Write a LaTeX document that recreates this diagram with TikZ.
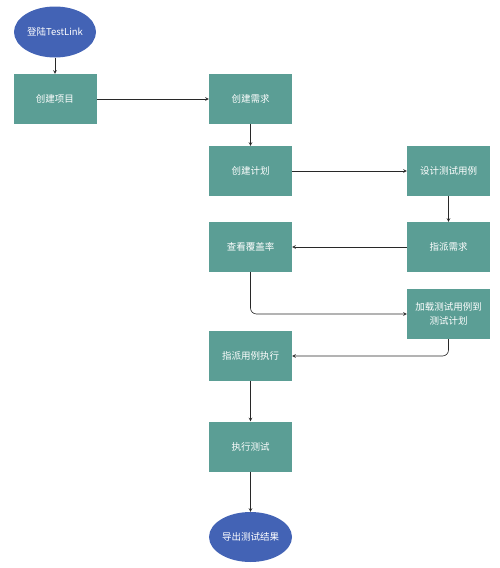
\documentclass[tikz,border=0pt]{standalone}
\usepackage{fontspec}
\newfontfamily\cjk{Noto Sans CJK SC}
\usetikzlibrary{shapes.geometric, arrows}
\definecolor{boxteal}{RGB}{91,158,149}
\definecolor{endblue}{RGB}{67,99,181}
\definecolor{linegray}{RGB}{40,40,40}
\tikzstyle{startstop} = [ellipse, minimum width=82pt, minimum height=51pt, inner sep=0pt, text centered, fill=endblue, text=white, font=\cjk\fontsize{9.5}{11}\selectfont]
\tikzstyle{process} = [rectangle, minimum width=83pt, minimum height=50pt, inner sep=1pt, text centered, text width=79pt, align=center, fill=boxteal, text=white, font=\cjk\fontsize{9.5}{14}\selectfont]
\tikzstyle{arrow} = [->, >=stealth, line width=0.6pt, draw=linegray]

\begin{document}
\begin{tikzpicture}[node distance=72pt]
\useasboundingbox (0,0) rectangle (500pt,-568pt);

\node (start) [startstop] at (55pt,-32pt) {登陆TestLink};
\node (proj) [process, below of=start, yshift=5pt] {创建项目};
\node (req) [process, right of=proj, xshift=123.5pt] {创建需求};
\node (plan) [process, below of=req] {创建计划};
\node (design) [process, right of=plan, xshift=126pt] {设计测试用例};
\node (assign) [process, below of=design, yshift=-4pt] {指派需求};
\node (cover) [process, below of=plan, yshift=-4pt] {查看覆盖率};
\node (load) [process, below of=assign, yshift=5pt] {加载测试用例到\\测试计划};
\node (exec) [process, below of=cover, yshift=-37pt] {指派用例执行};
\node (run) [process, below of=exec, yshift=-18.5pt] {执行测试};
\node (export) [startstop, below of=run, yshift=-18.5pt, minimum width=83pt, minimum height=50pt] {导出测试结果};

\draw [arrow] (start) -- (proj);
\draw [arrow] (proj) -- (req);
\draw [arrow] (req) -- (plan);
\draw [arrow] (plan) -- (design);
\draw [arrow] (design) -- (assign);
\draw [arrow] (assign) -- (cover);
\draw [arrow, rounded corners=6pt] (cover) |- (load);
\draw [arrow, rounded corners=6pt] (load) |- (exec);
\draw [arrow] (exec) -- (run);
\draw [arrow] (run) -- (export);

\end{tikzpicture}
\end{document}
